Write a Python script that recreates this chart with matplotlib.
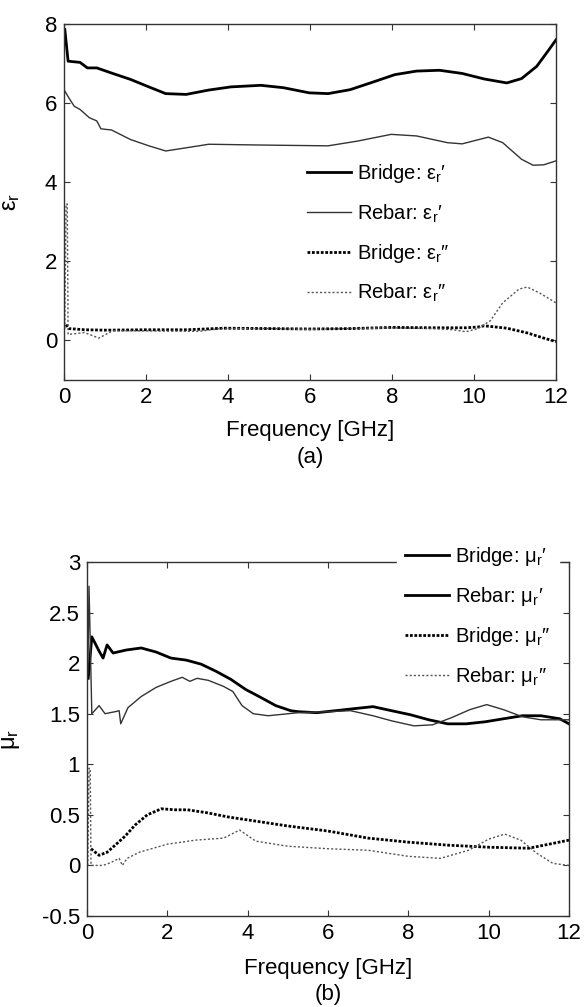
import matplotlib
matplotlib.use('Agg')
import matplotlib.pyplot as plt
from matplotlib.lines import Line2D

plt.rcParams['font.family'] = ['Liberation Sans', 'DejaVu Sans']
plt.rcParams['mathtext.fontset'] = 'custom'
plt.rcParams['mathtext.rm'] = 'Liberation Sans'
plt.rcParams['mathtext.it'] = 'Liberation Sans'
plt.rcParams['mathtext.default'] = 'regular'
plt.rcParams['axes.unicode_minus'] = False

# ---- (a) permittivity ----
f_br_eps1 = [0.02, 0.1, 0.39, 0.57, 0.8, 1.16, 1.62, 2.07, 2.48, 2.98, 3.53, 4.07, 4.8, 5.35,
             5.98, 6.44, 6.98, 7.53, 8.07, 8.6, 9.16, 9.71, 10.25, 10.8, 11.16, 11.53, 11.8, 12.0]
br_eps1 = [7.86, 7.06, 7.03, 6.89, 6.89, 6.76, 6.6, 6.41, 6.24, 6.22, 6.33, 6.41, 6.45, 6.39,
           6.26, 6.24, 6.34, 6.53, 6.72, 6.81, 6.83, 6.75, 6.61, 6.51, 6.62, 6.93, 7.31, 7.6]

f_rb_eps1 = [0.0, 0.12, 0.25, 0.39, 0.62, 0.8, 0.9, 1.16, 1.62, 2.07, 2.48, 2.98, 3.53, 4.8,
             6.44, 7.16, 7.98, 8.6, 9.35, 9.71, 10.35, 10.7, 11.16, 11.44, 11.7, 12.0]
rb_eps1 = [6.34, 6.13, 5.92, 5.84, 5.63, 5.55, 5.35, 5.32, 5.08, 4.92, 4.79, 4.87, 4.96, 4.94,
           4.92, 5.04, 5.21, 5.17, 5.0, 4.97, 5.14, 5.0, 4.58, 4.43, 4.44, 4.54]

f_br_eps2 = [0.05, 0.12, 0.5, 1.0, 2.0, 3.0, 3.9, 5.0, 6.0, 7.0, 8.0, 9.0, 9.8, 10.1, 10.25,
             10.8, 11.3, 11.7, 12.0]
br_eps2 = [0.4, 0.3, 0.27, 0.26, 0.27, 0.27, 0.31, 0.3, 0.29, 0.3, 0.33, 0.32, 0.32, 0.34, 0.37,
           0.31, 0.19, 0.06, -0.03]

f_rb_eps2 = [0.02, 0.05, 0.08, 0.1, 0.5, 0.85, 1.2, 2.0, 3.3, 3.8, 5.0, 6.0, 7.0, 8.0, 9.0,
             9.5, 9.8, 10.1, 10.4, 10.7, 11.1, 11.3, 11.6, 12.0]
rb_eps2 = [0.3, 3.45, 3.45, 0.15, 0.2, 0.06, 0.25, 0.24, 0.23, 0.3, 0.3, 0.28, 0.3, 0.32, 0.3,
           0.27, 0.22, 0.3, 0.5, 0.95, 1.3, 1.35, 1.2, 0.95]

# ---- (b) permeability ----
f_br_mu1 = [0.03, 0.12, 0.3, 0.4, 0.5, 0.65, 0.98, 1.35, 1.72, 2.09, 2.47, 2.84, 3.21, 3.58,
            3.95, 4.33, 4.7, 5.07, 5.26, 5.72, 6.19, 6.65, 7.12, 7.58, 8.05, 8.51, 8.98, 9.44,
            9.91, 10.37, 10.84, 11.3, 11.77, 12.0]
br_mu1 = [1.85, 2.26, 2.12, 2.05, 2.18, 2.1, 2.13, 2.15, 2.11, 2.05, 2.03, 1.99, 1.92, 1.84,
          1.74, 1.66, 1.58, 1.53, 1.52, 1.51, 1.53, 1.55, 1.57, 1.53, 1.49, 1.44, 1.40, 1.40,
          1.42, 1.45, 1.48, 1.48, 1.45, 1.40]

f_rb_mu1 = [0.02, 0.05, 0.12, 0.19, 0.3, 0.45, 0.7, 0.8, 0.84, 1.02, 1.35, 1.72, 2.09, 2.37,
            2.56, 2.74, 3.02, 3.4, 3.63, 3.86, 4.14, 4.51, 5.26, 6.0, 6.56, 7.12, 7.58, 8.14,
            8.6, 9.07, 9.53, 9.95, 10.37, 10.84, 11.3, 11.67, 12.0]
rb_mu1 = [1.9, 2.76, 1.5, 1.53, 1.58, 1.5, 1.52, 1.53, 1.40, 1.56, 1.67, 1.76, 1.82, 1.86,
          1.82, 1.85, 1.83, 1.77, 1.72, 1.58, 1.50, 1.48, 1.51, 1.52, 1.53, 1.48, 1.43, 1.38,
          1.39, 1.46, 1.54, 1.59, 1.54, 1.47, 1.44, 1.44, 1.44]

f_br_mu2 = [0.1, 0.3, 0.5, 0.7, 0.95, 1.2, 1.5, 1.85, 2.2, 2.5, 3.0, 3.5, 4.0, 5.0, 6.0, 7.0,
            8.0, 9.0, 10.0, 11.0, 12.0]
br_mu2 = [0.165, 0.10, 0.13, 0.2, 0.29, 0.40, 0.50, 0.56, 0.55, 0.55, 0.52, 0.48, 0.45, 0.39,
          0.34, 0.27, 0.23, 0.20, 0.18, 0.17, 0.25]

f_rb_mu2 = [0.02, 0.05, 0.08, 0.1, 0.4, 0.6, 0.8, 0.88, 1.0, 1.3, 2.0, 2.7, 3.4, 3.8, 4.2, 5.0,
            6.0, 7.0, 8.0, 8.8, 9.5, 10.0, 10.4, 10.8, 11.2, 11.6, 12.0]
rb_mu2 = [0.0, 0.96, 0.96, 0.0, 0.0, 0.03, 0.07, 0.0, 0.07, 0.13, 0.21, 0.25, 0.27, 0.35, 0.24,
          0.19, 0.165, 0.15, 0.09, 0.07, 0.15, 0.26, 0.31, 0.25, 0.12, 0.02, 0.0]

xticks = [0, 2, 4, 6, 8, 10, 12]
FS = 16
LFS = 14.5

fig = plt.figure(figsize=(5.84, 10.07), dpi=100)
fig.patch.set_facecolor('white')

thick = dict(color='black', lw=2.0)
thin = dict(color='#333333', lw=1.0)
dot_thick = dict(color='black', lw=2.0, dashes=(1, 0.6))
dot_thin = dict(color='#555555', lw=1.0, dashes=(1.5, 1.5))


def style(ax):
    ax.tick_params(direction='in', top=True, right=True, length=4, width=0.8,
                   labelsize=FS, pad=5, color='#333333')
    for s in ax.spines.values():
        s.set_linewidth(1.0)
        s.set_color('#333333')


# top panel
ax1 = fig.add_axes([64/584, 1 - 380/1007, 492/584, 356/1007])
ax1.plot(f_br_eps1, br_eps1, label="Bridge: ε$_r$′", **thick)
ax1.plot(f_rb_eps1, rb_eps1, label="Rebar: ε$_r$′", **thin)
ax1.plot(f_br_eps2, br_eps2, label="Bridge: ε$_r$″", **dot_thick)
ax1.plot(f_rb_eps2, rb_eps2, label="Rebar: ε$_r$″", **dot_thin)
ax1.set_xlim(0, 12)
ax1.set_ylim(-1, 8)
ax1.set_xticks(xticks)
ax1.set_yticks([0, 2, 4, 6, 8])
style(ax1)
ax1.set_xlabel('Frequency [GHz]\n(a)', fontsize=FS, linespacing=1.35, labelpad=9)
ax1.set_ylabel('ε$_r$', fontsize=FS + 1)
ax1.yaxis.set_label_coords(-0.085, 0.5)
ax1.legend(loc='upper left', bbox_to_anchor=(0.494, 0.612), frameon=False, fontsize=LFS,
           handlelength=2.2, handletextpad=0.3, labelspacing=0.85, borderpad=0,
           borderaxespad=0)

# bottom panel
ax2 = fig.add_axes([87/584, 1 - 916/1007, 482/584, 354/1007])
ax2.plot(f_br_mu1, br_mu1, **thick)
ax2.plot(f_rb_mu1, rb_mu1, **thin)
ax2.plot(f_br_mu2, br_mu2, **dot_thick)
ax2.plot(f_rb_mu2, rb_mu2, **dot_thin)
ax2.set_xlim(0, 12)
ax2.set_ylim(-0.5, 3)
ax2.set_xticks(xticks)
ax2.set_yticks([-0.5, 0, 0.5, 1, 1.5, 2, 2.5, 3])
ax2.set_yticklabels(['-0.5', '0', '0.5', '1', '1.5', '2', '2.5', '3'])
style(ax2)
ax2.set_xlabel('Frequency [GHz]\n(b)', fontsize=FS, linespacing=1.3, labelpad=10)
ax2.set_ylabel('μ$_r$', fontsize=FS + 1)
ax2.yaxis.set_label_coords(-0.135, 0.5)
handles = [Line2D([], [], **thick), Line2D([], [], **thick),
           Line2D([], [], **dot_thick), Line2D([], [], **dot_thin)]
labels = ["Bridge: μ$_r$′", "Rebar: μ$_r$′", "Bridge: μ$_r$″", "Rebar: μ$_r$″"]
leg = ax2.legend(handles, labels, loc='upper left', bbox_to_anchor=(0.643, 1.072),
                 frameon=True, fontsize=LFS, handlelength=2.2, handletextpad=0.3,
                 labelspacing=0.85, borderpad=0.4, borderaxespad=0, fancybox=False)
leg.get_frame().set_facecolor('white')
leg.get_frame().set_edgecolor('white')
leg.get_frame().set_alpha(1.0)

fig.savefig('out.png', dpi=100, facecolor='white')
